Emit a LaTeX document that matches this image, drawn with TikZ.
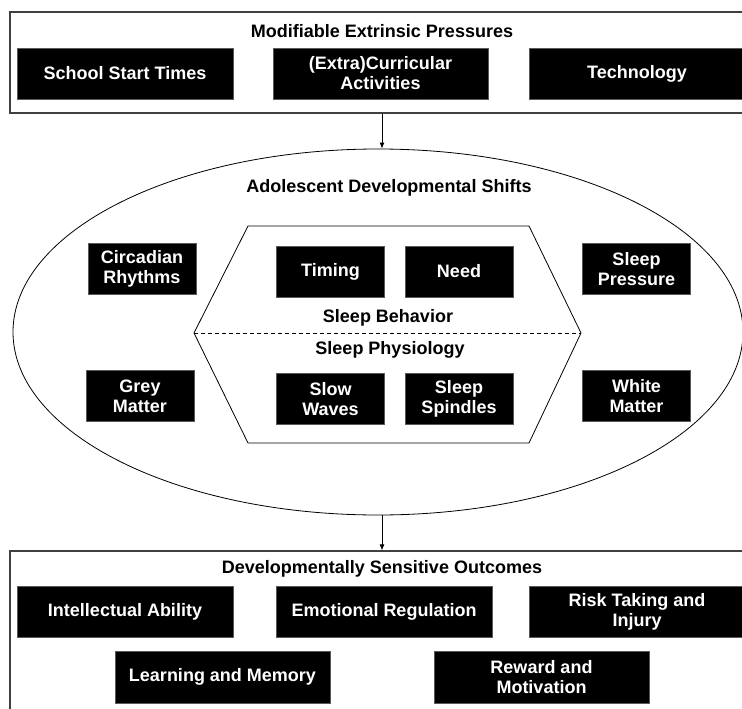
\documentclass[tikz,border=0pt]{standalone}
\usepackage{fontspec}
\setmainfont{Liberation Sans}
\usetikzlibrary{shapes.geometric,arrows.meta}
\tikzset{
  blk/.style={fill=black, draw=black!65, line width=0.8pt, text=white,
    font=\fontsize{18}{20}\selectfont\bfseries, align=center, inner sep=0pt,
    minimum height=51pt},
  wide/.style={blk, minimum width=216pt},
  small/.style={blk, minimum width=108pt},
  ttl/.style={font=\fontsize{18}{20}\selectfont\bfseries, inner sep=0pt},
  frame/.style={draw=black!75, line width=1.2pt, inner sep=0pt},
  arr/.style={-{Latex[length=6pt,width=5pt]}, line width=0.8pt}
}
\begin{document}
\begin{tikzpicture}[x=1pt,y=-1pt]
\useasboundingbox (0,0) rectangle (742,709);
\clip (0,0) rectangle (742,709);
% top frame
\node[frame, minimum width=744pt, minimum height=101pt] (top) at (382,62.5) {};
\node[ttl] (toptitle) at (382,31) {Modifiable Extrinsic Pressures};
\node[wide] (sst) at (125,73.5) {School Start Times};
\node[wide, minimum width=215pt] (ecc) at (380.5,73.5) {(Extra)Curricular\\Activities};
\node[wide] (tech) at (637,73.5) {Technology};
% ellipse
\node[ellipse, draw=black, line width=0.8pt, minimum width=730pt, minimum height=366pt, inner sep=0pt] (ell) at (378,332) {};
\node[ttl] (elltitle) at (389,188) {Adolescent Developmental Shifts};
% hexagon
\coordinate (h1) at (248,226);
\coordinate (h2) at (529,226);
\coordinate (h3) at (581,333);
\coordinate (h4) at (529,443);
\coordinate (h5) at (248,443);
\coordinate (h6) at (194,333);
\draw[line width=0.8pt, line join=miter] (h1) -- (h2) -- (h3) -- (h4) -- (h5) -- (h6) -- cycle;
\draw[dashed, line width=0.8pt, dash pattern=on 4pt off 3pt] (h6) -- (h3);
\node[ttl] (sb) at (388,318) {Sleep Behavior};
\node[ttl] (sp) at (390,350) {Sleep Physiology};
\node[small] (circ) at (142,269) {Circadian\\Rhythms};
\node[small] (timing) at (330.5,271.5) {Timing};
\node[small] (need) at (459,271.5) {Need};
\node[small] (press) at (636.5,269) {Sleep\\Pressure};
\node[small] (grey) at (140,396) {Grey\\Matter};
\node[small] (slow) at (330.5,399) {Slow\\Waves};
\node[small] (spind) at (459,399) {Sleep\\Spindles};
\node[small] (white) at (636.5,396) {White\\Matter};
% bottom frame
\node[frame, minimum width=744pt, minimum height=220pt] (bot) at (382,661) {};
\node[ttl] (bottitle) at (382,569) {Developmentally Sensitive Outcomes};
\node[wide] (intel) at (125,611.5) {Intellectual Ability};
\node[wide] (emo) at (384,611.5) {Emotional Regulation};
\node[wide] (risk) at (637,611.5) {Risk Taking and\\Injury};
\node[wide, minimum width=215pt, minimum height=52pt] (learn) at (222.5,677) {Learning and Memory};
\node[wide, minimum width=215pt, minimum height=52pt] (reward) at (541.5,677) {Reward and\\Motivation};
% arrows
\draw[arr] (top.south) -- (top.south |- ell.north);
\draw[arr] (bot.north |- ell.south) -- (bot.north);
\end{tikzpicture}
\end{document}
